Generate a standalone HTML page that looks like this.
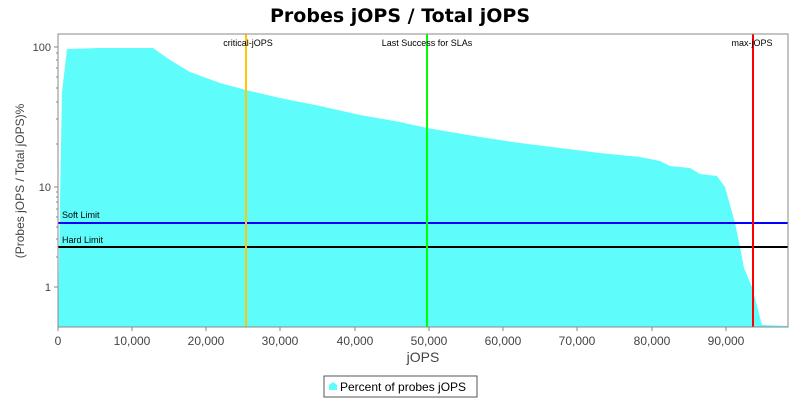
<!DOCTYPE html>
<html><head><meta charset="utf-8"><style>
body{margin:0;background:#fff;font-family:"Liberation Sans","DejaVu Sans",sans-serif}
</style></head><body>
<svg width="800" height="400" xmlns="http://www.w3.org/2000/svg" font-family="Liberation Sans, DejaVu Sans, sans-serif">
<rect width="800" height="400" fill="#fff"/>
<text x="400" y="22" text-anchor="middle" font-size="19" font-weight="bold" font-family="DejaVu Sans, sans-serif">Probes jOPS / Total jOPS</text>
<rect x="58" y="34" width="730" height="293" fill="#fff"/>
<polygon fill="#5ffcfc" points="58,327 60,200 62,92 67,49 100,48 153,48 170,60 190,72 220,83 246,90 280,98 320,106 360,115 400,122 427,128 480,137 520,143 560,148 600,153 640,157 660,161 670,166 690,168 700,174 717,176 725,187 735,223 740,247 744,268 752,287 762,325 788,326 788,327"/>
<line x1="58" y1="223" x2="788" y2="223" stroke="#0000ff" stroke-width="2"/>
<line x1="58" y1="247" x2="788" y2="247" stroke="#000" stroke-width="2"/>
<line x1="246" y1="34" x2="246" y2="327" stroke="#ffc800" stroke-width="2"/>
<line x1="427" y1="34" x2="427" y2="327" stroke="#00ff00" stroke-width="2"/>
<line x1="753" y1="34" x2="753" y2="327" stroke="#ff0000" stroke-width="2"/>
<g font-size="9" fill="#000">
<text x="62" y="218">Soft Limit</text>
<text x="62" y="243">Hard Limit</text>
<text x="248" y="46" text-anchor="middle">critical-jOPS</text>
<text x="427" y="46" text-anchor="middle">Last Success for SLAs</text>
<text x="752" y="46" text-anchor="middle">max-jOPS</text>
</g>
<rect x="58" y="34" width="730" height="293" fill="none" stroke="#888" stroke-width="1"/>
<g stroke="#888">
<line x1="54" y1="47" x2="58" y2="47"/><line x1="54" y1="187" x2="58" y2="187"/><line x1="54" y1="287" x2="58" y2="287"/>
<line x1="56" y1="144" x2="58" y2="144"/><line x1="56" y1="119" x2="58" y2="119"/><line x1="56" y1="102" x2="58" y2="102"/><line x1="56" y1="88" x2="58" y2="88"/><line x1="56" y1="77" x2="58" y2="77"/><line x1="56" y1="68" x2="58" y2="68"/><line x1="56" y1="60" x2="58" y2="60"/><line x1="56" y1="53" x2="58" y2="53"/>
<line x1="56" y1="257" x2="58" y2="257"/><line x1="56" y1="239" x2="58" y2="239"/><line x1="56" y1="227" x2="58" y2="227"/><line x1="56" y1="217" x2="58" y2="217"/><line x1="56" y1="209" x2="58" y2="209"/><line x1="56" y1="202" x2="58" y2="202"/><line x1="56" y1="197" x2="58" y2="197"/><line x1="56" y1="192" x2="58" y2="192"/>
<line x1="58" y1="327" x2="58" y2="331"/><line x1="132" y1="327" x2="132" y2="331"/><line x1="206" y1="327" x2="206" y2="331"/><line x1="280" y1="327" x2="280" y2="331"/><line x1="355" y1="327" x2="355" y2="331"/><line x1="429" y1="327" x2="429" y2="331"/><line x1="503" y1="327" x2="503" y2="331"/><line x1="577" y1="327" x2="577" y2="331"/><line x1="652" y1="327" x2="652" y2="331"/><line x1="726" y1="327" x2="726" y2="331"/>
</g>
<g font-size="11" fill="#444" text-anchor="end">
<text x="51" y="51">100</text><text x="51" y="191">10</text><text x="51" y="291">1</text>
</g>
<g font-size="12" fill="#444" text-anchor="middle">
<text x="58" y="345">0</text><text x="132" y="345">10,000</text><text x="206" y="345">20,000</text><text x="280" y="345">30,000</text><text x="355" y="345">40,000</text><text x="429" y="345">50,000</text><text x="503" y="345">60,000</text><text x="577" y="345">70,000</text><text x="652" y="345">80,000</text><text x="726" y="345">90,000</text>
</g>
<text x="423" y="362" text-anchor="middle" font-size="14" fill="#444">jOPS</text>
<text transform="translate(24,181) rotate(-90)" text-anchor="middle" font-size="12" fill="#444">(Probes jOPS / Total jOPS)%</text>
<rect x="324" y="376" width="153" height="21" fill="#fff" stroke="#555"/>
<path d="M333,382 L337,385 L337,390 L329,390 L329,385 Z" fill="#5ffcfc"/>
<text x="340" y="391" font-size="12" fill="#000">Percent of probes jOPS</text>
</svg>
</body></html>
